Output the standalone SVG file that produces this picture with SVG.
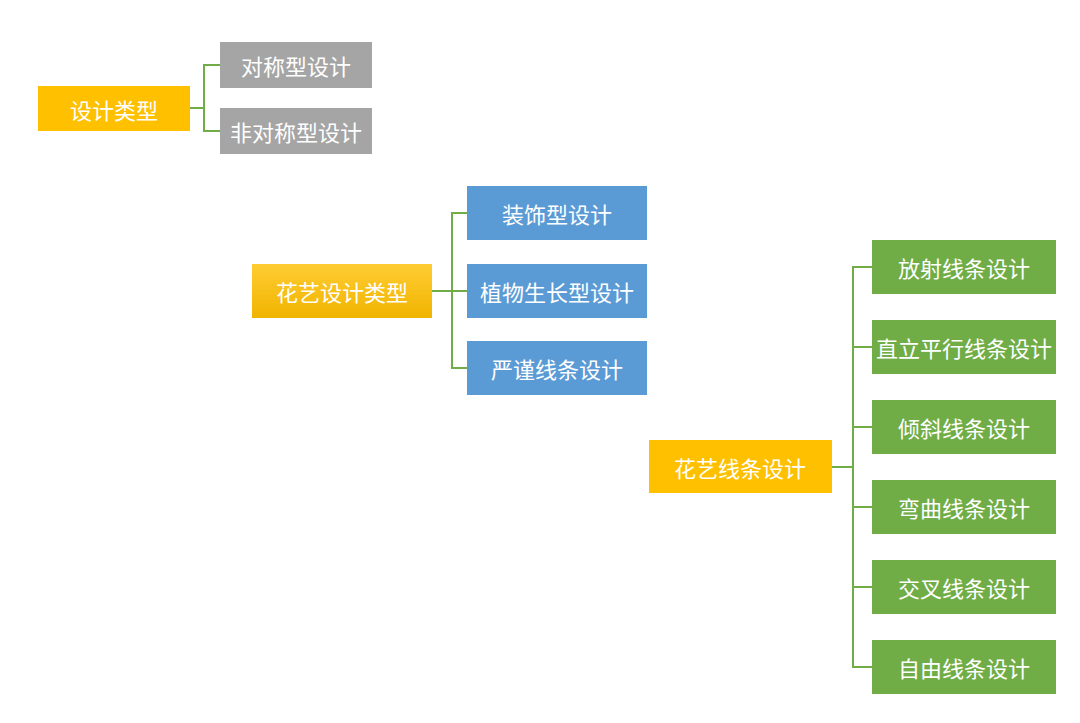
<svg xmlns="http://www.w3.org/2000/svg" width="1080" height="723" viewBox="0 0 1080 723">
<defs>
<linearGradient id="g1" x1="0" y1="0" x2="0" y2="1"><stop offset="0" stop-color="#ffcc33"/><stop offset="1" stop-color="#f0b400"/></linearGradient>
<style>
text{font-family:"Noto Sans CJK SC",sans-serif;fill:#fff;text-anchor:middle;dominant-baseline:central;font-size:22px}
.y{fill:#ffc000}.g{fill:#a5a5a5}.b{fill:#5b9bd5}.gr{fill:#70ad47}
.c path{fill:none;stroke:#70ad47;stroke-width:2}
</style>
</defs>
<rect width="1080" height="723" fill="#fff"/>
<g class="c">
<path d="M190 108H204M220 65H204V131H220"/>
<path d="M432 291H467M467 213H452V368H467"/>
<path d="M832 467H853M872 267H853V667H872M853 347H872M853 427H872M853 507H872M853 587H872"/>
</g>
<g id="n1"><rect class="y" x="38" y="86" width="152" height="45"/><text x="114" y="108.5">设计类型</text></g>
<g id="n2"><rect class="g" x="220" y="42" width="152" height="46"/><text x="296" y="65">对称型设计</text></g>
<g id="n3"><rect class="g" x="220" y="108" width="152" height="46"/><text x="296" y="131">非对称型设计</text></g>
<g id="n4"><rect fill="url(#g1)" x="252" y="264" width="180" height="54"/><text x="342" y="291">花艺设计类型</text></g>
<g id="n5"><rect class="b" x="467" y="186" width="180" height="54"/><text x="557" y="213">装饰型设计</text></g>
<g id="n6"><rect class="b" x="467" y="264" width="180" height="54"/><text x="557" y="291">植物生长型设计</text></g>
<g id="n7"><rect class="b" x="467" y="341" width="180" height="54"/><text x="557" y="368">严谨线条设计</text></g>
<g id="n8"><rect class="y" x="649" y="440" width="183" height="53"/><text x="740" y="466.5">花艺线条设计</text></g>
<g id="n9"><rect class="gr" x="872" y="240" width="184" height="54"/><text x="964" y="267">放射线条设计</text></g>
<g id="n10"><rect class="gr" x="872" y="320" width="184" height="54"/><text x="964" y="347">直立平行线条设计</text></g>
<g id="n11"><rect class="gr" x="872" y="400" width="184" height="54"/><text x="964" y="427">倾斜线条设计</text></g>
<g id="n12"><rect class="gr" x="872" y="480" width="184" height="54"/><text x="964" y="507">弯曲线条设计</text></g>
<g id="n13"><rect class="gr" x="872" y="560" width="184" height="54"/><text x="964" y="587">交叉线条设计</text></g>
<g id="n14"><rect class="gr" x="872" y="640" width="184" height="54"/><text x="964" y="667">自由线条设计</text></g>
</svg>
